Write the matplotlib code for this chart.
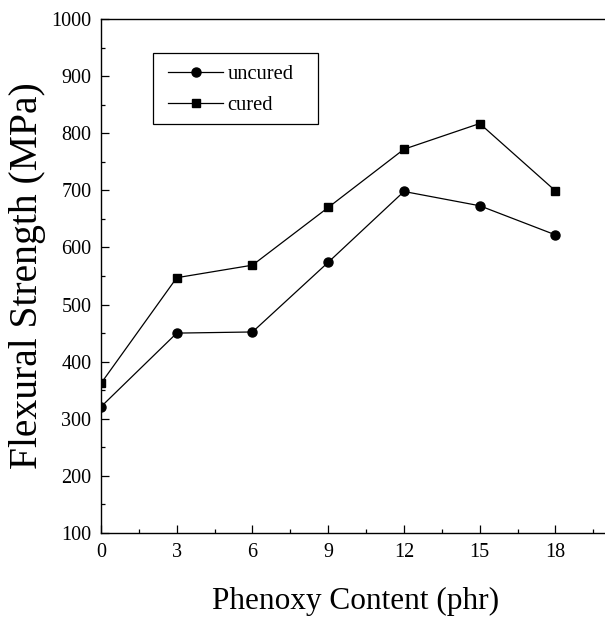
import matplotlib
matplotlib.use("Agg")
import matplotlib.pyplot as plt
from matplotlib.ticker import MultipleLocator
from matplotlib.patches import Rectangle

x = [0, 3, 6, 9, 12, 15, 18]
uncured = [321, 450, 452, 574, 698, 673, 622]
cured = [362, 547, 569, 670, 772, 817, 699]
xticks = [0, 3, 6, 9, 12, 15, 18]
yticks = [100, 200, 300, 400, 500, 600, 700, 800, 900, 1000]

plt.rcParams['font.family'] = ['Liberation Serif', 'DejaVu Serif']

fig = plt.figure(figsize=(6.05, 6.18), dpi=100)
ax = fig.add_axes([101/605, 1 - 533/618, 510/605, (533 - 19)/618])

ax.plot(x, uncured, color='black', lw=0.9, marker='o', ms=6.5, label='uncured')
ax.plot(x, cured, color='black', lw=0.9, marker='s', ms=5.2, label='cured')

ax.set_xlim(0, 20.2)
ax.set_ylim(100, 1000)
ax.set_xticks(xticks)
ax.set_yticks(yticks)
ax.xaxis.set_minor_locator(MultipleLocator(1.5))
ax.yaxis.set_minor_locator(MultipleLocator(50))
ax.tick_params(which='both', direction='in', labelsize=14.5, width=0.9)
ax.tick_params(which='major', length=6)
ax.tick_params(which='minor', length=3)
ax.tick_params(axis='x', pad=7)
ax.tick_params(axis='y', pad=7)
for s in ['left', 'bottom', 'top']:
    ax.spines[s].set_linewidth(1.0)
ax.spines['right'].set_visible(False)

ax.set_xlabel('Phenoxy Content (phr)', fontsize=22.5)
ax.set_ylabel('Flexural Strength (MPa)', fontsize=28.5)
ax.xaxis.set_label_coords(0.5, -0.105)
ax.yaxis.set_label_coords(-0.108, 0.5)

# legend frame drawn separately (wider right padding as in reference)
ax.add_patch(Rectangle((0.101, 0.796), 0.324, 0.138, transform=ax.transAxes,
                       fill=False, edgecolor='black', lw=0.9, zorder=5))
leg = ax.legend(loc='upper left', bbox_to_anchor=(0.131, 0.911), fontsize=14.8,
                frameon=False, borderpad=0, borderaxespad=0, handlelength=2.7,
                handletextpad=0.2, labelspacing=0.56)

fig.savefig('out.png', dpi=100)
